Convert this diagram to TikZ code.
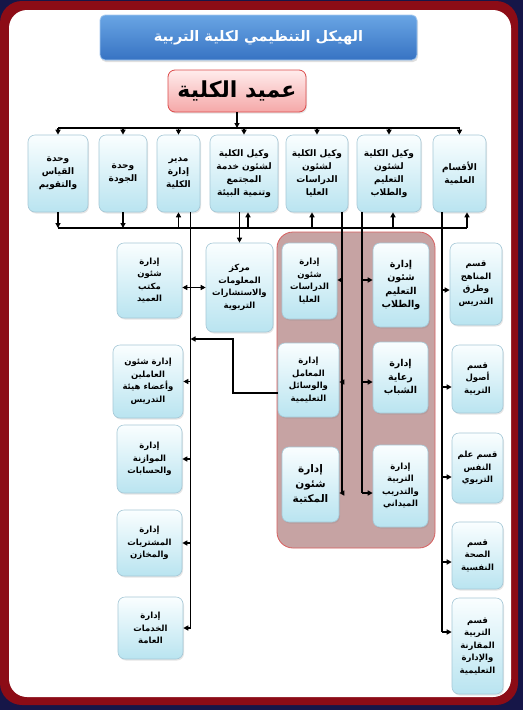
\documentclass[tikz,border=0pt]{standalone}
\usepackage{fontspec}
\newfontfamily\arabicfont[Script=Arabic]{DejaVu Sans}
\TeXXeTstate=1
\usetikzlibrary{arrows.meta,shadows}
\definecolor{navy}{RGB}{22,22,72}
\definecolor{framered}{RGB}{140,12,22}
\definecolor{boxtop}{RGB}{250,254,255}
\definecolor{boxbot}{RGB}{185,228,240}
\definecolor{boxline}{RGB}{165,200,215}
\definecolor{titletop}{RGB}{105,165,228}
\definecolor{titlebot}{RGB}{55,115,195}
\definecolor{deantop}{RGB}{255,236,236}
\definecolor{deanbot}{RGB}{245,168,168}
\definecolor{deanline}{RGB}{220,75,75}
\definecolor{zone}{RGB}{198,163,163}
\definecolor{zoneline}{RGB}{215,95,95}
\newcommand{\rl}[1]{\beginR #1\endR}

\tikzset{
  unit/.style={draw=boxline, line width=0.6pt, rounded corners=7pt,
    top color=boxtop, bottom color=boxbot, align=center, inner sep=1pt,
    font=\arabicfont\bfseries\fontsize{8.5}{12.5}\selectfont,
    drop shadow={opacity=0.2, shadow xshift=1pt, shadow yshift=-1.5pt}},
  headunit/.style={unit, font=\arabicfont\bfseries\fontsize{9}{13}\selectfont},
  bigunit/.style={unit, font=\arabicfont\bfseries\fontsize{9.5}{13.5}\selectfont},
  boxsize/.style 2 args={minimum width=#1, minimum height=#2},
  arr/.style={-{Triangle[length=5pt,width=5pt]}},
  arrs/.style={{Triangle[length=5pt,width=5pt]}-{Triangle[length=5pt,width=5pt]}},
}

\begin{document}
\begin{tikzpicture}[x=1pt, y=-1pt, line width=1.4pt]
  \useasboundingbox (0,0) rectangle (523,710);
  \fill[navy] (0,0) rectangle (523,710);
  \fill[framered, rounded corners=22pt] (0,1) rectangle (518,705);
  \fill[white, rounded corners=18pt] (9,10) rectangle (511,697);
  \filldraw[fill=zone, draw=zoneline, line width=0.8pt, rounded corners=16pt] (277,232) rectangle (435,548);

  \node[draw=titletop!60!white, line width=0.8pt, rounded corners=5pt, top color=titletop, bottom color=titlebot,
    boxsize={317pt}{45pt}, text=white, font=\arabicfont\bfseries\fontsize{14.5}{16}\selectfont,
    drop shadow={opacity=0.25, shadow xshift=1pt, shadow yshift=-2pt}] (title) at (258.5,37.5)
    {\rl{الهيكل التنظيمي لكلية التربية}};
  \node[draw=deanline, line width=0.8pt, rounded corners=7pt, top color=deantop, bottom color=deanbot,
    boxsize={138pt}{42pt}, font=\arabicfont\bfseries\fontsize{22}{24}\selectfont,
    drop shadow={opacity=0.2, shadow xshift=1pt, shadow yshift=-1.5pt}] (dean) at (237,91)
    {\rl{عميد الكلية}};

  % top row
  \node[headunit, boxsize={60pt}{77pt}] (u1) at (58,173.5) {\rl{وحدة}\\\rl{القياس}\\\rl{والتقويم}};
  \node[headunit, boxsize={48pt}{77pt}] (u2) at (123,173.5) {\rl{وحدة}\\\rl{الجودة}};
  \node[headunit, boxsize={43pt}{77pt}] (u3) at (178.5,173.5) {\rl{مدير}\\\rl{إدارة}\\\rl{الكلية}};
  \node[headunit, boxsize={68pt}{77pt}] (u4) at (244,173.5) {\rl{وكيل الكلية}\\\rl{لشئون خدمة}\\\rl{المجتمع}\\\rl{وتنمية البيئة}};
  \node[headunit, boxsize={62pt}{77pt}] (u5) at (317,173.5) {\rl{وكيل الكلية}\\\rl{لشئون}\\\rl{الدراسات}\\\rl{العليا}};
  \node[headunit, boxsize={64pt}{77pt}] (u6) at (389,173.5) {\rl{وكيل الكلية}\\\rl{لشئون}\\\rl{التعليم}\\\rl{والطلاب}};
  \node[headunit, boxsize={53pt}{77pt}] (u7) at (459.5,173.5) {\rl{الأقسام}\\\rl{العلمية}};

  % left column
  \node[unit, boxsize={65pt}{75pt}] (m1) at (149.5,280.5) {\rl{إدارة}\\\rl{شئون}\\\rl{مكتب}\\\rl{العميد}};
  \node[unit, boxsize={67pt}{89pt}] (m2) at (239.5,287.5) {\rl{مركز}\\\rl{المعلومات}\\\rl{والاستشارات}\\\rl{التربوية}};
  \node[unit, boxsize={70pt}{73pt}] (m3) at (148,381.5) {\rl{إدارة شئون}\\\rl{العاملين}\\\rl{وأعضاء هيئة}\\\rl{التدريس}};
  \node[unit, boxsize={65pt}{68pt}] (m4) at (149.5,459) {\rl{إدارة}\\\rl{الموازنة}\\\rl{والحسابات}};
  \node[unit, boxsize={65pt}{66pt}] (m5) at (149.5,543) {\rl{إدارة}\\\rl{المشتريات}\\\rl{والمخازن}};
  \node[unit, boxsize={65pt}{62pt}] (m6) at (150.5,628) {\rl{إدارة}\\\rl{الخدمات}\\\rl{العامة}};

  % middle zone
  \node[unit, boxsize={55pt}{76pt}] (c1) at (309.5,281) {\rl{إدارة}\\\rl{شئون}\\\rl{الدراسات}\\\rl{العليا}};
  \node[unit, boxsize={61pt}{74pt}] (c2) at (308.5,380) {\rl{إدارة}\\\rl{المعامل}\\\rl{والوسائل}\\\rl{التعليمية}};
  \node[unit, boxsize={57pt}{75pt}, font=\arabicfont\bfseries\fontsize{10.5}{15}\selectfont] (c3) at (310.5,484.5) {\rl{إدارة}\\\rl{شئون}\\\rl{المكتبة}};
  \node[bigunit, boxsize={56pt}{84pt}] (d1) at (401,285) {\rl{إدارة}\\\rl{شئون}\\\rl{التعليم}\\\rl{والطلاب}};
  \node[bigunit, boxsize={55pt}{71pt}] (d2) at (400.5,377.5) {\rl{إدارة}\\\rl{رعاية}\\\rl{الشباب}};
  \node[unit, boxsize={55pt}{82pt}] (d3) at (400.5,486) {\rl{إدارة}\\\rl{التربية}\\\rl{والتدريب}\\\rl{الميداني}};

  % right column
  \node[unit, boxsize={52pt}{82pt}] (k1) at (476,284) {\rl{قسم}\\\rl{المناهج}\\\rl{وطرق}\\\rl{التدريس}};
  \node[unit, boxsize={51pt}{68pt}] (k2) at (477.5,379) {\rl{قسم}\\\rl{أصول}\\\rl{التربية}};
  \node[unit, boxsize={51pt}{70pt}] (k3) at (477.5,468) {\rl{قسم علم}\\\rl{النفس}\\\rl{التربوي}};
  \node[unit, boxsize={51pt}{67pt}] (k4) at (477.5,555.5) {\rl{قسم}\\\rl{الصحة}\\\rl{النفسية}};
  \node[unit, boxsize={51pt}{96pt}] (k5) at (477.5,646) {\rl{قسم}\\\rl{التربية}\\\rl{المقارنة}\\\rl{والإدارة}\\\rl{التعليمية}};

  % bus levels and offsets
  \coordinate (tb) at (0,128);
  \coordinate (bb) at (0,228);
  \coordinate (u3l) at ([xshift=12pt]u3.south);
  \coordinate (u4a) at ([xshift=4pt]u4.south);
  \coordinate (u5a) at ([xshift=-5pt]u5.south);
  \coordinate (u5l) at ([xshift=25pt]u5.south);
  \coordinate (u6l) at ([xshift=-27pt]u6.south);
  \coordinate (u6a) at ([xshift=4pt]u6.south);
  \coordinate (u7l) at ([xshift=-17.5pt]u7.south);
  \coordinate (u7a) at ([xshift=7.5pt]u7.south);
  \coordinate (r1) at (0,280);
  \coordinate (r2) at (0,382);
  \coordinate (r3) at (0,493);

  \draw[arr] (dean) -- (dean |- tb);
  \draw (u1 |- tb) -- (u7 |- tb);
  \foreach \n in {u1,u2,u3,u4,u5,u6,u7}
    \draw[arr] (\n |- tb) -- (\n);

  \draw (u1 |- bb) -- (u7a |- bb);
  \draw[arr] (u1) -- (u1 |- bb);
  \draw[arr] (u2) -- (u2 |- bb);
  \draw[arr] (u3 |- bb) -- (u3);
  \foreach \n in {u4a,u5a,u6a,u7a}
    \draw[arr] (\n |- bb) -- (\n);

  % administration
  \draw (u3l) -- (u3l |- m6);
  \foreach \n in {m3,m4,m5,m6}
    \draw[arr] (u3l |- \n) -- (\n);
  \draw[arrs] (m1.east |- m2) -- (m2);
  \draw[arr] (m2 |- u4.south) -- (m2);
  \coordinate (c2o) at ([yshift=-13pt]c2.west);
  \coordinate (kink) at (233,339);
  \draw[arr] (c2o) -| (kink) -- (u3l |- kink);

  % vice deans
  \draw (u5l) -- (u5l |- r3);
  \draw (u6l) -- (u6l |- r3);
  \foreach \n/\r in {c1/r1,c2/r2,c3/r3}
    \draw[arr] (u5l |- \r) -- (\n.east |- \r);
  \foreach \n/\r in {d1/r1,d2/r2,d3/r3}
    \draw[arr] (u6l |- \r) -- (\n.west |- \r);

  % departments
  \draw (u7l) -- (u7l |- 0,632);
  \foreach \n/\y in {k1/290,k2/387,k3/477,k4/562,k5/632}
    \draw[arr] (u7l |- 0,\y) -- (\n.west |- 0,\y);
\end{tikzpicture}
\end{document}
